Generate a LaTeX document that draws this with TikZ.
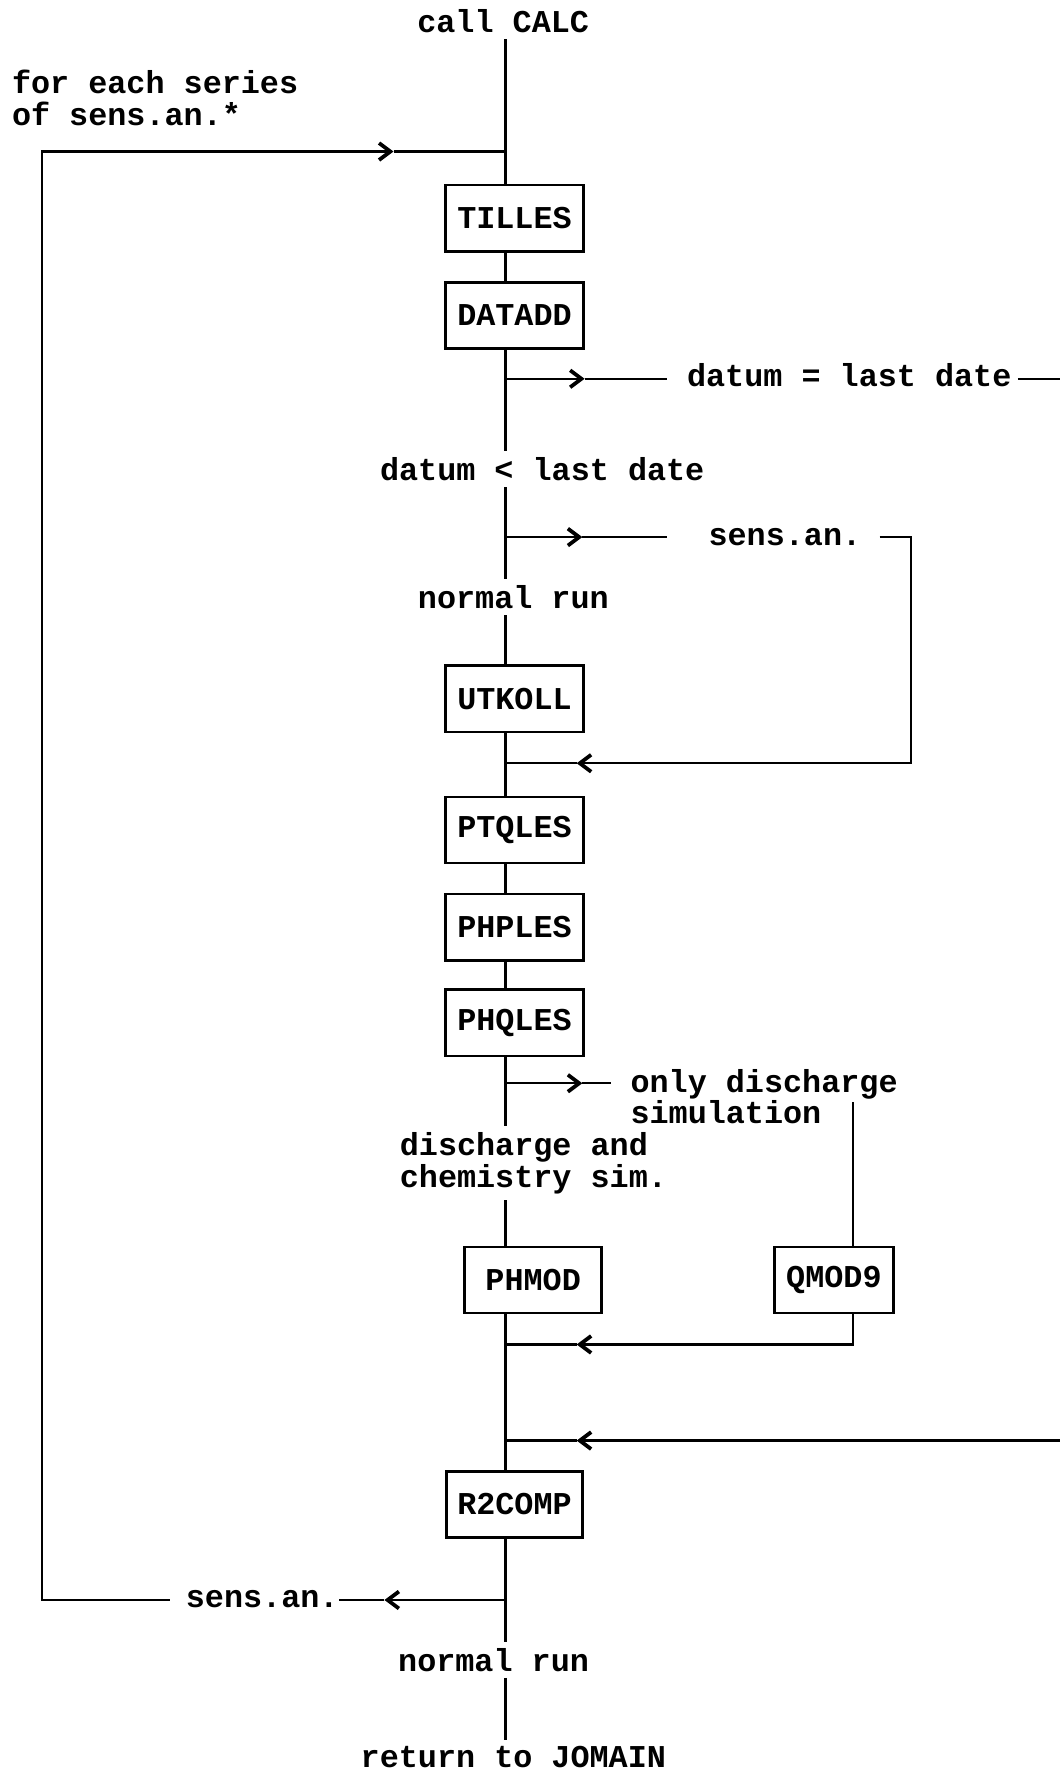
\documentclass[tikz,border=0pt]{standalone}
\usepackage{fontspec}
\newfontfamily\typefont{Liberation Mono}
\usepackage{tikz}
\usetikzlibrary{arrows.meta,calc}
\tikzset{
  trunkline/.style={line width=1.3pt},
  branchline/.style={line width=1.1pt},
  chevarrow/.style={branchline, -{Straight Barb[length=2mm,width=3mm,line width=1.9pt]}}
}

\begin{document}
\begin{tikzpicture}[
  font=\typefont\bfseries\fontsize{16}{16}\selectfont,
  box/.style={draw, line width=1.3pt, minimum width=2.44cm, minimum height=1.17cm, inner sep=0pt},
  lab/.style={inner sep=3pt}
]
\useasboundingbox (0,0) rectangle (18.74,-31.36);

\coordinate (jloop) at (8.94,-2.68);
\coordinate (jdate) at (8.94,-6.70);
\coordinate (jsens) at (8.94,-9.50);
\coordinate (jutk) at (8.94,-13.50);
\coordinate (jonly) at (8.94,-19.16);
\coordinate (jqmod) at (8.94,-23.78);
\coordinate (jlast) at (8.94,-25.48);
\coordinate (jback) at (8.94,-28.30);

\node[lab, anchor=base] at (8.90,-0.58) (callcalc) {call CALC};
\node[lab, anchor=base west, align=left] at (0.10,-2.22) (foreach) {for each series\\of sens.an.*};
\node[box] at (9.10,-3.86) (tilles) {TILLES};
\node[box] at (9.10,-5.58) (datadd) {DATADD};
\node[lab, anchor=base west] at (12.04,-6.84) (datumeq) {datum = last date};
\node[lab, anchor=base] at (9.59,-8.50) (datumlt) {datum < last date};
\node[lab, anchor=base west] at (12.42,-9.64) (sensfwd) {sens.an.};
\node[lab, anchor=base] at (9.08,-10.76) (normtop) {normal run};
\node[box] at (9.10,-12.36) (utkoll) {UTKOLL};
\node[box] at (9.10,-14.68) (ptqles) {PTQLES};
\node[box] at (9.10,-16.40) (phples) {PHPLES};
\node[box] at (9.10,-18.09) (phqles) {PHQLES};
\node[lab, anchor=base west, align=left] at (11.04,-19.88) (onlydis) {only discharge\\simulation};
\node[lab, anchor=base west, align=left] at (6.96,-21.00) (dischg) {discharge and\\chemistry sim.};
\node[box, minimum width=2.42cm] at (9.43,-22.64) (phmod) {PHMOD};
\node[box, minimum width=2.10cm] at (14.75,-22.64) (qmod9) {QMOD9};
\node[box, minimum width=2.40cm] at (9.10,-26.61) (r2comp) {R2COMP};
\node[lab, anchor=base east] at (6.10,-28.44) (sensback) {sens.an.};
\node[lab, anchor=base] at (8.73,-29.56) (normbot) {normal run};
\node[lab, anchor=base] at (9.08,-31.26) (retjo) {return to JOMAIN};

\draw[trunkline] (callcalc.south -| jloop) -- (tilles.north -| jloop);
\draw[trunkline] (tilles.south -| jloop) -- (datadd.north -| jloop);
\draw[trunkline] (datadd.south -| jloop) -- (datumlt.north -| jloop);
\draw[trunkline] (datumlt.south -| jloop) -- (normtop.north -| jloop);
\draw[trunkline] (normtop.south -| jloop) -- (utkoll.north -| jloop);
\draw[trunkline] (utkoll.south -| jloop) -- (ptqles.north -| jloop);
\draw[trunkline] (ptqles.south -| jloop) -- (phples.north -| jloop);
\draw[trunkline] (phples.south -| jloop) -- (phqles.north -| jloop);
\draw[trunkline] (phqles.south -| jloop) -- (dischg.north -| jloop);
\draw[trunkline] (dischg.south -| jloop) -- (phmod.north -| jloop);
\draw[trunkline] (phmod.south -| jloop) -- (r2comp.north -| jloop);
\draw[trunkline] (r2comp.south -| jloop) -- (normbot.north -| jloop);
\draw[trunkline] (normbot.south -| jloop) -- (retjo.north -| jloop);

\coordinate (cd1) at (10.34,-6.70);
\coordinate (cd2) at (11.80,-6.70);
\coordinate (redge1) at (18.74,-6.70);
\draw[chevarrow] (jdate) -- (cd1);
\draw[branchline] (cd1) -- (cd2);
\draw[branchline] (datumeq.east |- jdate) -- (redge1);

\coordinate (cs1) at (10.30,-9.50);
\coordinate (cs2) at (11.80,-9.50);
\coordinate (cs3) at (15.56,-9.50);
\coordinate (cs4) at (16.12,-9.50);
\coordinate (cs5) at (16.12,-13.50);
\coordinate (cs6) at (10.20,-13.50);
\draw[chevarrow] (jsens) -- (cs1);
\draw[branchline] (cs1) -- (cs2);
\draw[chevarrow] (cs3) -- (cs4) -- (cs5) -- (cs6);
\draw[branchline] (cs6) -- (jutk);

\coordinate (co1) at (10.30,-19.16);
\coordinate (co2) at (10.80,-19.16);
\coordinate (qtop) at (15.08,-19.50);
\coordinate (qbot) at (15.08,-23.78);
\coordinate (cq1) at (10.20,-23.78);
\draw[chevarrow] (jonly) -- (co1);
\draw[branchline] (co1) -- (co2);
\draw[branchline] (qtop) -- (qmod9.north -| qtop);
\draw[chevarrow] (qmod9.south -| qtop) -- (qbot) -- (cq1);
\draw[branchline] (cq1) -- (jqmod);

\coordinate (redge2) at (18.74,-25.48);
\coordinate (cl1) at (10.20,-25.48);
\draw[chevarrow] (redge2) -- (cl1);
\draw[branchline] (cl1) -- (jlast);

\coordinate (cb1) at (6.80,-28.30);
\coordinate (cb2) at (6.00,-28.30);
\coordinate (cb3) at (3.00,-28.30);
\coordinate (loopbl) at (0.74,-28.30);
\coordinate (looptl) at (0.74,-2.68);
\coordinate (ct1) at (6.96,-2.68);
\draw[chevarrow] (jback) -- (cb1);
\draw[branchline] (cb1) -- (cb2);
\draw[chevarrow] (cb3) -- (loopbl) -- (looptl) -- (ct1);
\draw[branchline] (ct1) -- (jloop);
\end{tikzpicture}
\end{document}
